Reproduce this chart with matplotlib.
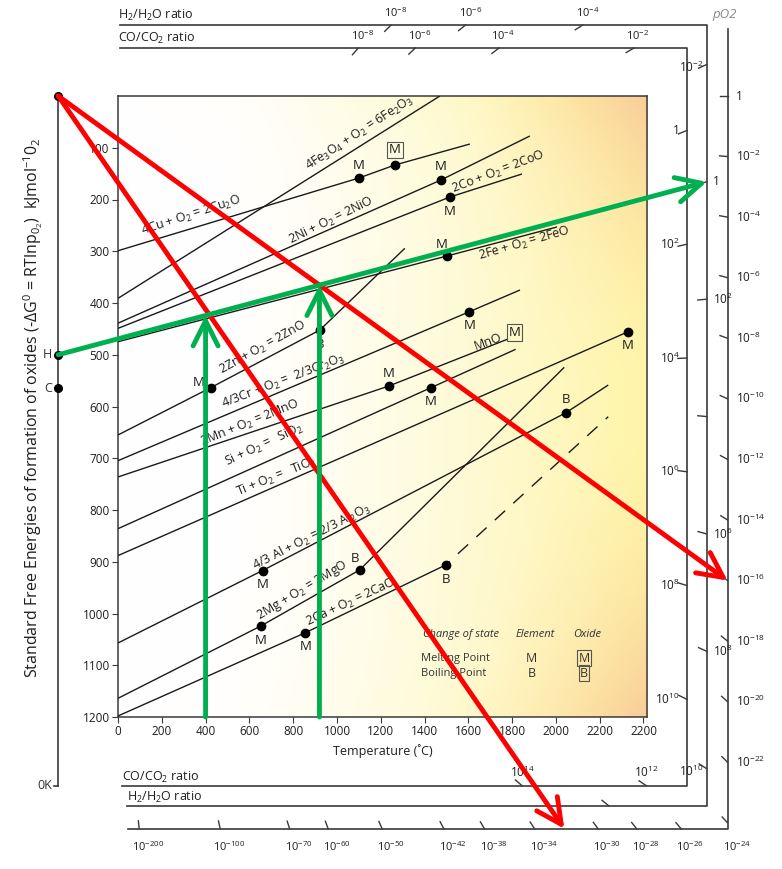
import numpy as np
import matplotlib
matplotlib.use('Agg')
import matplotlib.pyplot as plt

plt.rcParams['font.family'] = ['Open Sans', 'DejaVu Sans']
plt.rcParams['mathtext.fontset'] = 'custom'
plt.rcParams['mathtext.rm'] = 'Open Sans'
plt.rcParams['mathtext.it'] = 'Open Sans:italic'
plt.rcParams['mathtext.bf'] = 'Open Sans:bold'

# ---------------- data (temperature in deg C, -dG in kJ/mol O2) ----------------
XTICKS = [0, 200, 400, 600, 800, 1000, 1200, 1400, 1600, 1800, 2000, 2200, 2400]
XTICKLABELS = ['0', '200', '400', '600', '800', '1000', '1200', '1400', '1600',
               '1800', '2000', '2200', '2200']
YTICKS = [100, 200, 300, 400, 500, 600, 700, 800, 900, 1000, 1100, 1200]

CU_T = [0, 1100, 1265, 1607];            CU_G = [299, 158.5, 133.3, 92.8]
FE2O3_T = [0, 1470];                     FE2O3_G = [391, 0]
NI_T = [0, 1475, 1881];                  NI_G = [439, 162.3, 77.3]
CO_T = [0, 1516, 1845];                  CO_G = [449, 195.2, 150.7]
FEO_T = [0, 1502, 2005];                 FEO_G = [474.8, 309.2, 253.1]
ZN_T = [0, 423, 922, 1310];              ZN_G = [655, 563.7, 452.2, 294.3]
CR_T = [0, 1605, 1836];                  CR_G = [704.7, 416.8, 374.9]
MN_T = [0, 1237, 1781];                  MN_G = [736.2, 560.4, 469.6]
SI_T = [0, 1429, 1816];                  SI_G = [836.1, 563.7, 489.5]
TI_T = [0, 2330];                        TI_G = [888.1, 455.5]
AL_T = [0, 660, 2046, 2239];             AL_G = [1057, 917, 612, 558.5]
MG_T = [0, 652, 1103, 2038];             MG_G = [1163.9, 1024.2, 916, 524.3]
CA_T = [0, 856, 1496];                   CA_G = [1198, 1037.1, 906.3]
CA_DASH_T = [1496, 2239];                CA_DASH_G = [906.3, 619.7]

# state-change points: T, G, letter, boxed, label side
POINT_T = [1100, 1265, 1475, 1516, 1502, 423, 922, 1605, 1237, 1429, 2330, 2046, 660, 1103, 652, 856, 1496]
POINT_G = [158.5, 133.3, 162.3, 195.2, 309.2, 563.7, 452.2, 416.8, 560.4, 563.7, 455.5, 612, 917, 916, 1024.2, 1037.1, 906.3]
POINT_TXT = ['M', 'M', 'M', 'M', 'M', 'M', 'B', 'M', 'M', 'M', 'M', 'B', 'M', 'B', 'M', 'M', 'B']
POINT_BOX = [False, True, False, False, False, False, False, False, False, False, False, False, False, False, False, False, False]
POINT_SIDE = ['up', 'up', 'up', 'down', 'upl', 'left', 'down', 'down', 'up', 'down', 'down', 'up', 'down', 'upl', 'down', 'down', 'down']

LABEL_TXT = ['4Fe$_3$O$_4$ + O$_2$ = 6Fe$_2$O$_3$', '4Cu + O$_2$ = 2Cu$_2$O', '2Ni + O$_2$ = 2NiO',
             '2Co + O$_2$ = 2CoO', '2Fe + O$_2$ = 2FeO', '2Zn + O$_2$ = 2ZnO',
             '4/3Cr + O$_2$ =  2/3Cr$_2$O$_3$', '2Mn + O$_2$ = 2MnO', 'Si + O$_2$ =   SiO$_2$',
             'Ti + O$_2$ =   TiO$_2$', '4/3 Al + O$_2$ = 2/3 Al$_2$O$_3$', '2Mg + O$_2$ = 2MgO',
             '2Ca + O$_2$ = 2CaO', 'MnO']
LABEL_T = [1105, 333, 973, 1735, 1858, 660, 758, 603, 667, 726, 886, 840, 1064, 1690]
LABEL_G = [73, 232, 241, 147, 286, 487, 552, 632, 674, 736, 852, 956, 978, 475]
LABEL_ROT = [33, 18, 26, 21, 16, 29, 21, 22, 25, 22, 27, 31, 25, 20]
MNO_BOX_T, MNO_BOX_G = 1813, 457

# nomographic scales (exponents of ten)
PO2_RIGHT_EXP = [0, -2, -4, -6, -8, -10, -12, -14, -16, -18, -20, -22]
PO2_BOTTOM_EXP = [-200, -100, -70, -60, -50, -42, -38, -34, -30, -28, -26, -24]
CO_TOP_EXP = [-8, -6, -4, -2]
CO_RIGHT_EXP = [0, 2, 4, 6, 8, 10]
CO_BOTTOM_EXP = [12, 14]
H2_TOP_EXP = [-8, -6, -4]
H2_RIGHT_EXP = [-2, 0, 2, 4, 6, 8, 10]
H2_RIGHT_UNLABELLED = [4]
H2_LEFT_SIDE_LABEL = [-2, 10]
H2_BOTTOM_EXP = [12]

R_GAS = 8.314e-3
H_ANCHOR, H_SLOPE = 500.0, 0.1128     # 2H2 + O2 = 2H2O
C_ANCHOR, C_SLOPE = 565.0, 0.1736     # 2CO + O2 = 2CO2

RED_TARGET_EXP_BOTTOM = -32
RED_TARGET_EXP_RIGHT = -16
GREEN_T = [400, 920]

# ---------------- figure ----------------
W, H = 782, 869
fig = plt.figure(figsize=(W / 100, H / 100), dpi=100)
fig.patch.set_facecolor('white')
ax = fig.add_axes([118 / W, 1 - 717 / H, 529 / W, 621 / H])
XMAX = 2416
ax.set_xlim(0, XMAX)
ax.set_ylim(1200, 0)
ax.set_facecolor('none')

FRAME = '#3a3a3a'
TXT = '#1e1e1e'
for s in ax.spines.values():
    s.set_color(FRAME)
    s.set_linewidth(1.1)
ax.set_xticks(XTICKS)
ax.set_xticklabels(XTICKLABELS)
ax.set_yticks(YTICKS)
ax.tick_params(direction='out', length=4, width=0.8, labelsize=8.5, pad=2,
               colors=FRAME, labelcolor=TXT)

# background gradient
ny, nx = 240, 320
u = np.linspace(0, 1, nx)[None, :]
v = np.linspace(0, 1, ny)[:, None]
wy = np.clip((u - 0.2) / 0.8, 0, 1) ** 1.3
wy = np.clip(wy + 0.25 * np.exp(-v / 0.08) * u + 0.15 * np.exp(-(1 - v) / 0.12) * u, 0, 1)
wo = np.clip((u - 0.6) / 0.4, 0, 1) ** 2 * (np.abs(v - 0.5) * 2) ** 2.0
white = np.array([1.0, 1.0, 1.0])
yellow = np.array([1.0, 0.96, 0.66])
orange = np.array([0.975, 0.80, 0.60])
img = white * (1 - wy[..., None]) + yellow * wy[..., None]
img = img * (1 - wo[..., None]) + orange * wo[..., None]
ax.imshow(img, extent=[0, XMAX, 1200, 0], aspect='auto', zorder=0, interpolation='bilinear')

LW = 1.0
for t, g in [(CU_T, CU_G), (FE2O3_T, FE2O3_G), (NI_T, NI_G), (CO_T, CO_G), (FEO_T, FEO_G),
             (ZN_T, ZN_G), (CR_T, CR_G), (MN_T, MN_G), (SI_T, SI_G), (TI_T, TI_G),
             (AL_T, AL_G), (MG_T, MG_G), (CA_T, CA_G)]:
    ax.plot(t, g, color='#1a1a1a', lw=LW, zorder=3, solid_capstyle='butt')
ax.plot(CA_DASH_T, CA_DASH_G, color='#1a1a1a', lw=LW, zorder=3, linestyle=(6, (10, 8)))

PX2PT = 0.72
side_off = {'up': (0, 13), 'down': (0, -14), 'left': (-12, 5), 'upl': (-5, 12)}
for t, g, s, bx, sd in zip(POINT_T, POINT_G, POINT_TXT, POINT_BOX, POINT_SIDE):
    ax.plot([t], [g], 'o', color='black', ms=6, zorder=4)
    dx, dy = side_off[sd]
    kw = {}
    if bx:
        dy += 2
        kw['bbox'] = dict(boxstyle='square,pad=0.12', fc='none', ec='#555555', lw=0.8)
    ax.annotate(s, (t, g), xytext=(dx * PX2PT, dy * PX2PT), textcoords='offset points',
                ha='center', va='center', fontsize=9.5, color=TXT, zorder=5, **kw)

for s, t, g, r in zip(LABEL_TXT, LABEL_T, LABEL_G, LABEL_ROT):
    ax.text(t, g, s, rotation=r, rotation_mode='anchor', ha='center', va='center',
            fontsize=9, color=TXT, zorder=5)
ax.text(MNO_BOX_T, MNO_BOX_G, 'M', ha='center', va='center', fontsize=9.5, color=TXT, zorder=5,
        bbox=dict(boxstyle='square,pad=0.12', fc='none', ec='#555555', lw=0.8))

# legend
ax.text(1566, 1041, 'Change of state', style='italic', ha='center', va='center', fontsize=8, color='#333')
ax.text(1907, 1041, 'Element', style='italic', ha='center', va='center', fontsize=8, color='#333')
ax.text(2145, 1041, 'Oxide', style='italic', ha='center', va='center', fontsize=8, color='#333')
ax.text(1384, 1086, 'Melting Point', ha='left', va='center', fontsize=8, color='#333')
ax.text(1384, 1115, 'Boiling Point', ha='left', va='center', fontsize=8, color='#333')
ax.text(1890, 1086, 'M', ha='center', va='center', fontsize=9, color='#333')
ax.text(1890, 1115, 'B', ha='center', va='center', fontsize=9, color='#333')
for gg, ss in [(1086, 'M'), (1115, 'B')]:
    ax.text(2128, gg, ss, ha='center', va='center', fontsize=9, color='#333',
            bbox=dict(boxstyle='square,pad=0.1', fc='none', ec='#555555', lw=0.8))

# ---------------- nomographic frames ----------------
T_R_CO, T_R_H2, T_R_PO2 = 2598, 2689, 2784
G_TOP_CO, G_TOP_H2, G_TOP_PO2 = -92.8, -137.2, -129.5
G_BOT_CO, G_BOT_H2, G_BOT_PO2 = 1333, 1372, 1416
fkw = dict(color=FRAME, lw=1.2, clip_on=False, zorder=2)
ax.plot([9, T_R_CO, T_R_CO, 18], [G_TOP_CO, G_TOP_CO, G_BOT_CO, G_BOT_CO], **fkw)
ax.plot([9, T_R_H2, T_R_H2, 41], [G_TOP_H2, G_TOP_H2, G_BOT_H2, G_BOT_H2], **fkw)
ax.plot([T_R_PO2, T_R_PO2, 46], [G_TOP_PO2, G_BOT_PO2, G_BOT_PO2], **fkw)
ax.plot([-273, -273], [0, G_BOT_CO], **fkw)
ax.plot([-291, -273], [G_BOT_CO, G_BOT_CO], **fkw)
ax.text(-300, G_BOT_CO, '0K', ha='right', va='center', fontsize=9, color='#333')
for g, s in [(0, None), (H_ANCHOR, 'H'), (C_ANCHOR, 'C')]:
    ax.plot([-273], [g], 'o', color='black', ms=5.5, clip_on=False, zorder=6)
    if s:
        ax.text(-300, g, s, ha='right', va='center', fontsize=9, color='#333')

LN10 = np.log(10)


def frame_hit(anchor, slope, t_right, g_top, g_bot):
    g = anchor + slope * (t_right + 273)
    if g_top <= g <= g_bot:
        return (t_right, g), 'right'
    target = g_top if g < g_top else g_bot
    return ((target - anchor) / slope - 273, target), ('top' if g < g_top else 'bottom')


def scale_tick(p, anchor, length_px=8):
    P = ax.transData.transform(p)
    A = ax.transData.transform((-273, anchor))
    d = (A - P) / np.hypot(*(A - P))
    E = ax.transData.inverted().transform(P + d * length_px)
    ax.plot([p[0], E[0]], [p[1], E[1]], color=FRAME, lw=1.0, clip_on=False, zorder=2)


def lab(s, p, dx, dy, ha='center', size=8):
    ax.annotate(s, p, xytext=(dx * PX2PT, dy * PX2PT), textcoords='offset points',
                ha=ha, va='center', fontsize=size, color=TXT, annotation_clip=False)


def pw(e):
    return '1' if e == 0 else r'10$^{%d}$' % e


# pO2 scale
for e in PO2_RIGHT_EXP + PO2_BOTTOM_EXP:
    p, side = frame_hit(0.0, -R_GAS * LN10 * e, T_R_PO2, G_TOP_PO2, G_BOT_PO2)
    scale_tick(p, 0.0)
    if e in PO2_RIGHT_EXP:
        lab(pw(e), p, 8, 0, ha='left', size=8.5)
    else:
        lab(pw(e), (p[0], G_BOT_PO2), 9, -18, size=8)
ax.text(2772, -158, 'pO2', style='italic', color='#8a8a8a', ha='center', va='center', fontsize=9.5)

# CO/CO2 scale
for e in CO_TOP_EXP + CO_RIGHT_EXP + CO_BOTTOM_EXP:
    p, side = frame_hit(C_ANCHOR, -C_SLOPE + 2 * R_GAS * LN10 * e, T_R_CO, G_TOP_CO, G_BOT_CO)
    scale_tick(p, C_ANCHOR, 9)
    if side == 'top':
        lab(pw(e), p, 4, 12)
    elif side == 'right':
        lab(pw(e), p, -7, 0, ha='right', size=8.5)
    else:
        lab(pw(e), p, 0, 13, size=8.5)
ax.text(0, -112, 'CO/CO$_2$ ratio', ha='left', va='center', fontsize=9, color=TXT)
ax.text(18, 1316, 'CO/CO$_2$ ratio', ha='left', va='center', fontsize=9, color=TXT)

# H2/H2O scale
for e in H2_TOP_EXP + H2_RIGHT_EXP + H2_BOTTOM_EXP:
    p, side = frame_hit(H_ANCHOR, -H_SLOPE + 2 * R_GAS * LN10 * e, T_R_H2, G_TOP_H2, G_BOT_H2)
    scale_tick(p, H_ANCHOR, 9)
    if side == 'top':
        lab(pw(e), p, 5, 12)
    elif side == 'right' and e not in H2_RIGHT_UNLABELLED:
        if e in H2_LEFT_SIDE_LABEL:
            lab(pw(e), p, -3, -3, ha='right', size=8.5)
        else:
            lab(pw(e), p, 6, 0, ha='left', size=8.5)
ax.text(0, -156, 'H$_2$/H$_2$O ratio', ha='left', va='center', fontsize=9, color=TXT)
ax.text(41, 1355, 'H$_2$/H$_2$O ratio', ha='left', va='center', fontsize=9, color=TXT)

# axis titles
ax.text(XMAX / 2, 1266, 'Temperature (˚C)', ha='center', va='center', fontsize=9, color=TXT)
fig.text(33 / W, 1 - 408 / H,
         r'Standard Free Energies of formation of oxides (-$\Delta$G$^0$ = RTlnp$_{0_2}$)  kJmol$^{-1}$0$_2$',
         rotation=90, ha='center', va='center', fontsize=11.5, color=TXT)

# ---------------- red and green construction arrows ----------------
RED = '#ff0000'
GREEN = '#00b050'
red_bot, _ = frame_hit(0.0, -R_GAS * LN10 * RED_TARGET_EXP_BOTTOM, T_R_PO2, G_TOP_PO2, G_BOT_PO2)
red_right, _ = frame_hit(0.0, -R_GAS * LN10 * RED_TARGET_EXP_RIGHT, T_R_PO2, G_TOP_PO2, G_BOT_PO2)
for tgt in [red_bot, red_right]:
    ax.annotate('', xy=tgt, xytext=(-273, 0), annotation_clip=False, zorder=10,
                arrowprops=dict(arrowstyle='->,head_length=0.9,head_width=0.45', color=RED,
                                lw=3.5, shrinkA=0, shrinkB=0, mutation_scale=20))

h2_one = (T_R_H2, H_ANCHOR - H_SLOPE * (T_R_H2 + 273))
ax.annotate('', xy=h2_one, xytext=(-273, H_ANCHOR), annotation_clip=False, zorder=11,
            arrowprops=dict(arrowstyle='->,head_length=0.9,head_width=0.45', color=GREEN,
                            lw=3.5, shrinkA=0, shrinkB=0, mutation_scale=20))
for t in GREEN_T:
    top = H_ANCHOR - H_SLOPE * (t + 273)
    ax.annotate('', xy=(t, top), xytext=(t, 1200), annotation_clip=False, zorder=11,
                arrowprops=dict(arrowstyle='->,head_length=0.9,head_width=0.45', color=GREEN,
                                lw=3.5, shrinkA=0, shrinkB=0, mutation_scale=20))

fig.savefig('out.png', dpi=100)
